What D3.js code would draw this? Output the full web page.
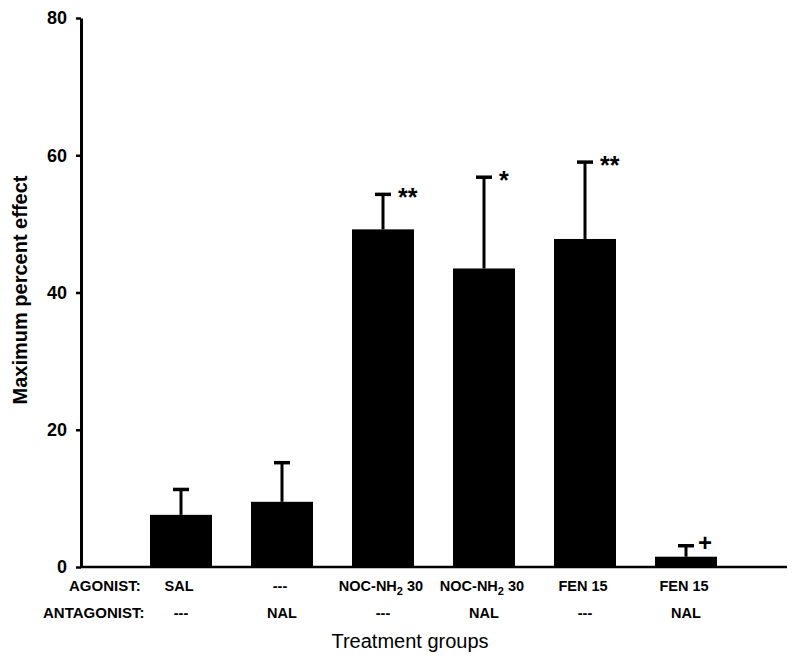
<!DOCTYPE html>
<html>
<head>
<meta charset="utf-8">
<script src="https://cdn.jsdelivr.net/npm/d3@7"></script>
<style>
  body { margin: 0; background: #fff; }
  svg { font-family: "Liberation Sans", Arial, Helvetica, sans-serif; }
</style>
</head>
<body>
<div id="chart"></div>
<script>
// Data
var groups = ["g1", "g2", "g3", "g4", "g5", "g6"];
var agonist = ["SAL", "---", "NOC-NH_2 30", "NOC-NH_2 30", "FEN 15", "FEN 15"];
var antagonist = ["---", "NAL", "---", "NAL", "---", "NAL"];
var means = [7.6, 9.5, 49.2, 43.5, 47.8, 1.5];
var sems = [3.7, 5.7, 5.1, 13.3, 11.2, 1.6];
var marks = ["", "", "**", "*", "**", "+"];
var yTicks = [0, 20, 40, 60, 80];

var width = 800, height = 664;

var svg = d3.select("#chart")
  .append("svg")
  .attr("width", width)
  .attr("height", height);

var x = d3.scaleBand()
  .domain(groups)
  .range([130.5, 736.5]);

var y = d3.scaleLinear()
  .domain([0, 80])
  .range([567, 18]);

var barW = 62;
var cx = function(i) { return x(groups[i]) + x.bandwidth() / 2; };

// bars
svg.selectAll("rect.bar")
  .data(means)
  .enter()
  .append("rect")
  .attr("class", "bar")
  .attr("x", function(d, i) { return cx(i) - barW / 2; })
  .attr("y", function(d) { return y(d); })
  .attr("width", barW)
  .attr("height", function(d) { return y(0) - y(d); })
  .attr("fill", "#000");

// error bars (upper only)
svg.selectAll("line.err")
  .data(means)
  .enter()
  .append("line")
  .attr("x1", function(d, i) { return cx(i); })
  .attr("x2", function(d, i) { return cx(i); })
  .attr("y1", function(d) { return y(d); })
  .attr("y2", function(d, i) { return y(d + sems[i]); })
  .attr("stroke", "#000")
  .attr("stroke-width", 3);

svg.selectAll("line.cap")
  .data(means)
  .enter()
  .append("line")
  .attr("x1", function(d, i) { return cx(i) - 8; })
  .attr("x2", function(d, i) { return cx(i) + 8; })
  .attr("y1", function(d, i) { return y(d + sems[i]); })
  .attr("y2", function(d, i) { return y(d + sems[i]); })
  .attr("stroke", "#000")
  .attr("stroke-width", 3.5);

// significance marks
svg.selectAll("text.mark")
  .data(marks)
  .enter()
  .append("text")
  .attr("x", function(d, i) { return cx(i) + (d == "+" ? 12 : 15); })
  .attr("y", function(d, i) { return y(means[i] + sems[i]) + (d == "+" ? 5 : 12); })
  .style("font-size", function(d) { return d == "+" ? "24px" : "25px"; })
  .style("font-weight", "bold")
  .text(function(d) { return d; });

// y axis
var yAxis = d3.axisLeft(y)
  .tickValues(yTicks)
  .tickSize(5)
  .tickSizeOuter(0)
  .tickPadding(9);

var gy = svg.append("g")
  .attr("transform", "translate(81,0)")
  .call(yAxis);
gy.select(".domain").attr("stroke-width", 3);
gy.selectAll(".tick line").attr("stroke-width", 2.5);
gy.selectAll(".tick text")
  .style("font-size", "18px")
  .style("font-weight", "bold")
  .attr("fill", "#000");

// x axis line
var step = x.step();
svg.append("line")
  .attr("x1", 80)
  .attr("x2", x.range()[1] + step / 2)
  .attr("y1", y(0))
  .attr("y2", y(0))
  .attr("stroke", "#000")
  .attr("stroke-width", 2.5);

// group labels
function addLabel(sel, s) {
  var parts = s.split("_");
  sel.append("tspan").text(parts[0]);
  if (parts.length > 1) {
    sel.append("tspan").attr("dy", 4).style("font-size", "11px").text(parts[1].charAt(0));
    sel.append("tspan").attr("dy", -4).text(parts[1].slice(1));
  }
}

svg.append("text")
  .attr("x", 69).attr("y", 591)
  .style("font-size", "15px").style("font-weight", "bold")
  .text("AGONIST:");
svg.append("text")
  .attr("x", 43).attr("y", 618)
  .style("font-size", "15px").style("font-weight", "bold")
  .text("ANTAGONIST:");

agonist.forEach(function(s, i) {
  var t = svg.append("text")
    .attr("x", cx(i) - 2).attr("y", 591)
    .attr("text-anchor", "middle")
    .style("font-size", "14.5px").style("font-weight", "bold");
  addLabel(t, s);
});
antagonist.forEach(function(s, i) {
  svg.append("text")
    .attr("x", cx(i)).attr("y", 618)
    .attr("text-anchor", "middle")
    .style("font-size", "14.5px").style("font-weight", "bold")
    .text(s);
});

// axis titles
svg.append("text")
  .attr("x", 410).attr("y", 648)
  .attr("text-anchor", "middle")
  .style("font-size", "20px")
  .text("Treatment groups");

svg.append("text")
  .attr("transform", "translate(27,290) rotate(-90)")
  .attr("text-anchor", "middle")
  .style("font-size", "20px")
  .style("font-weight", "bold")
  .text("Maximum percent effect");
</script>
</body>
</html>
